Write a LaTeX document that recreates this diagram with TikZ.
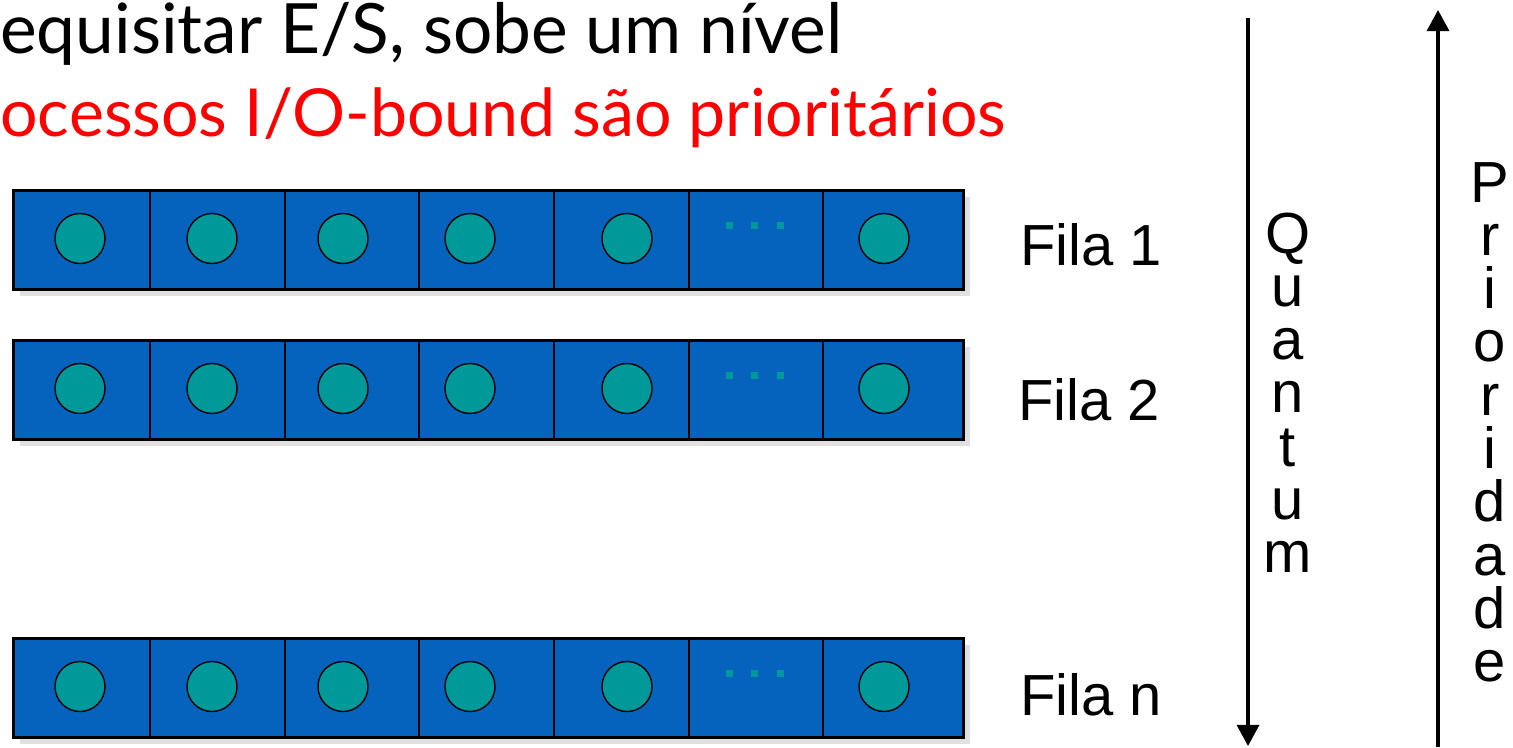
\documentclass[tikz,border=0pt]{standalone}
\usepackage{fontspec}
\setmainfont{Liberation Sans}
\newfontfamily\titlefont{Lato}
\usetikzlibrary{arrows.meta}
\definecolor{filablue}{RGB}{5,99,190}
\definecolor{procteal}{RGB}{0,153,153}
\definecolor{alertred}{RGB}{255,0,0}

\begin{document}
\begin{tikzpicture}[x=0.02cm, y=-0.02cm,
  fila/.style={draw, line width=1.8pt, fill=filablue, minimum width=19cm, minimum height=1.98cm, inner sep=0pt, anchor=north west},
  sombra/.style={fill=black!12},
  cel/.style={line width=1pt},
  proc/.style={circle, draw, line width=0.8pt, fill=procteal, minimum size=1cm, inner sep=0pt},
  lab/.style={font=\fontsize{33}{38}\selectfont, inner sep=0pt, anchor=base west},
  vlab/.style={font=\fontsize{33}{38}\selectfont, inner sep=0pt, anchor=base},
  titulo/.style={inner sep=0pt, anchor=base west},
  seta/.style={line width=2pt, -{Triangle[length=12pt, width=12.5pt]}}]
\useasboundingbox (0,0) rectangle (1513,747);

% titulos
\node[titulo, font=\titlefont\fontsize{39.5}{46}\selectfont] (t1) at (0,53) {equisitar E/S, sobe um nível};
\node[titulo, font=\titlefont\fontsize{37.7}{44}\selectfont, text=alertred] (t2) at (0,136) {ocessos I/O-bound são prioritários};

% filas
\foreach \r/\top/\nome/\lx/\ly in {1/189/1/1020/265, 2/339/2/1018/420, 3/637/n/1020/715} {
  \fill[sombra] (20,\top+8) rectangle ++(950,99);
  \node[fila] (fila\r) at (12,\top) {};
  \foreach \dx in {150,285,419,554,689,823}
    \draw[cel] (\dx,\top) -- (\dx,\top+99);
  \foreach \cx [count=\i] in {80,212,343,470,627,884}
    \node[proc] (p\r-\i) at (\cx,\top+49.5) {};
  \foreach \dx in {729,754,780}
    \fill[procteal] (\dx-3.5,\top+33) rectangle ++(7,7);
  \node[lab] (l\r) at (\lx,\ly) {Fila \nome};
}

% quantum
\coordinate (qtop) at (1248,18);
\coordinate (qbot) at (1248,746);
\draw[seta] (qtop) -- (qbot);
\foreach \c [count=\i from 0] in {Q,u,a,n,t,u,m}
  \node[vlab] (q\i) at (1288,253+53.3*\i) {\c};

% prioridade
\coordinate (pbot) at (1438,747);
\coordinate (ptop) at (1438,10);
\draw[seta] (pbot) -- (ptop);
\foreach \c [count=\i from 0] in {P,r,i,o,r,i,d,a,d,e}
  \node[vlab] (pr\i) at (1490,202+53.3*\i) {\c};
\end{tikzpicture}
\end{document}
